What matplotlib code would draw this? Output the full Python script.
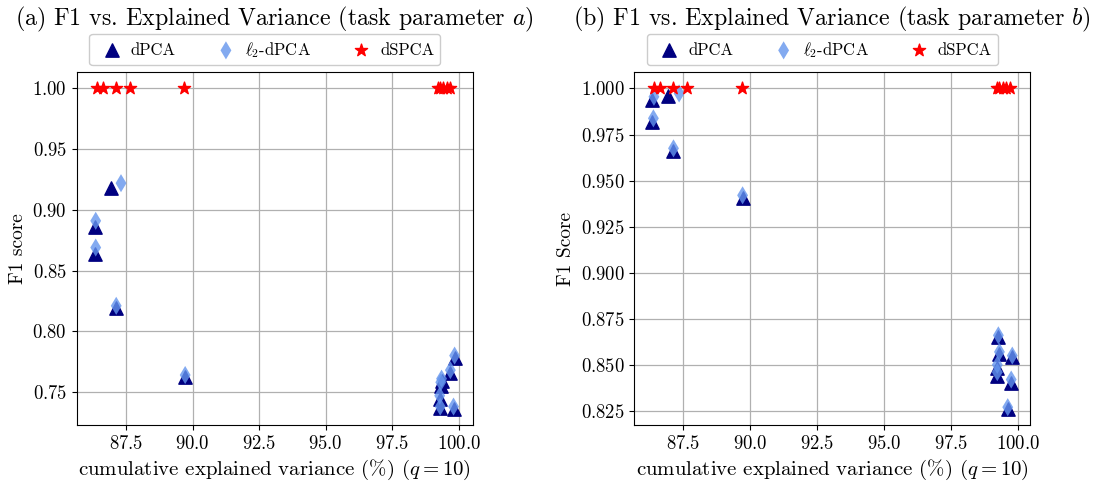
import matplotlib
matplotlib.use("Agg")
import matplotlib.pyplot as plt

plt.rcParams["font.family"] = "serif"
plt.rcParams["font.serif"] = ["cmr10"]
plt.rcParams["mathtext.fontset"] = "cm"
plt.rcParams["axes.formatter.use_mathtext"] = True

# task parameter a
a_x_dpca = [86.32, 86.32, 86.95, 87.13, 89.72, 99.28, 99.30, 99.32, 99.35, 99.68, 99.80, 99.84]
a_f1_dpca = [0.886, 0.864, 0.918, 0.819, 0.762, 0.7445, 0.7365, 0.755, 0.759, 0.766, 0.736, 0.778]
a_x_l2 = [86.36, 86.36, 87.31, 87.13, 89.72, 99.28, 99.30, 99.32, 99.35, 99.68, 99.80, 99.84]
a_f1_l2 = [0.891, 0.869, 0.922, 0.821, 0.764, 0.747, 0.738, 0.758, 0.761, 0.768, 0.738, 0.780]

# task parameter b
b_x_dpca = [86.34, 86.34, 86.94, 87.13, 89.71, 99.26, 99.30, 99.78, 99.20, 99.20, 99.74, 99.61]
b_f1_dpca = [0.9937, 0.982, 0.996, 0.966, 0.9405, 0.865, 0.856, 0.854, 0.848, 0.844, 0.840, 0.826]
b_x_l2 = [86.40, 86.38, 87.34, 87.13, 89.71, 99.26, 99.30, 99.78, 99.22, 99.22, 99.74, 99.61]
b_f1_l2 = [0.9955, 0.9838, 0.9973, 0.9675, 0.942, 0.866, 0.857, 0.855, 0.850, 0.846, 0.842, 0.827]

# dSPCA always hits F1 = 1
x_dspca = [86.42, 86.62, 87.12, 87.65, 89.68, 99.20, 99.28, 99.42, 99.55, 99.68]
f1_dspca = [1.0] * len(x_dspca)

panels = [
    ("(a) F1 vs. Explained Variance (task parameter $a$)", "F1 score",
     a_x_dpca, a_f1_dpca, a_x_l2, a_f1_l2),
    ("(b) F1 vs. Explained Variance (task parameter $b$)", "F1 Score",
     b_x_dpca, b_f1_dpca, b_x_l2, b_f1_l2),
]

fig = plt.figure(figsize=(10.95, 4.83), dpi=100)
lefts = [0.070, 0.5793]

for left, (title, ylabel, xd, yd, xl, yl) in zip(lefts, panels):
    ax = fig.add_axes([left, 0.120, 0.3616, 0.730])
    ax.scatter(xd, yd, marker="^", s=92, color="navy", label="dPCA", zorder=3)
    ax.scatter(xl, yl, marker="d", s=85, color="cornflowerblue", alpha=0.8,
               edgecolors="none", label=r"$\ell_2$-dPCA", zorder=4)
    ax.scatter(x_dspca, f1_dspca, marker="*", s=85, color="red", label="dSPCA", zorder=5)
    ax.grid(True, color="#b0b0b0", linewidth=0.9)
    ax.set_axisbelow(True)
    ax.set_title(title, fontsize=17.2, pad=34)
    ax.set_xlabel(r"cumulative explained variance (%) ($q=10$)", fontsize=15)
    ax.set_ylabel(ylabel, fontsize=14)
    ax.tick_params(labelsize=13.5)
    ax.legend(loc="lower center", bbox_to_anchor=(0.475, 1.02), ncol=3,
              fontsize=12, columnspacing=2.0, handlelength=2.0,
              handletextpad=0.15, borderpad=0.35, borderaxespad=0.0,
              framealpha=1)

fig.savefig("out.png", dpi=100)
